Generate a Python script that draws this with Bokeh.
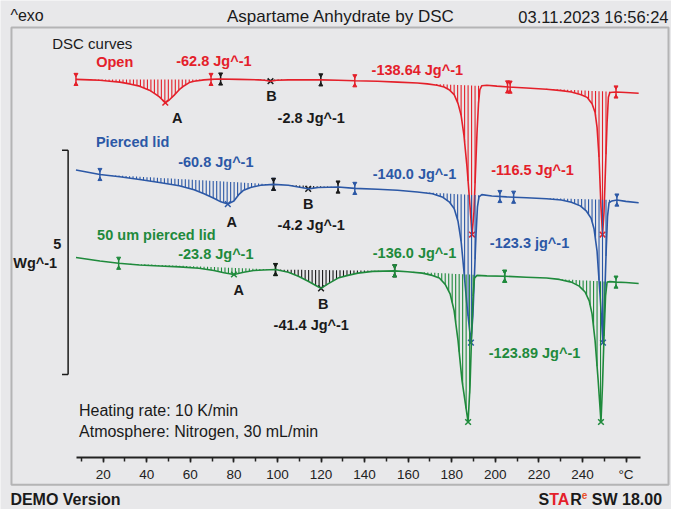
import numpy as np
from bokeh.plotting import figure
from bokeh.models import Range1d, LinearAxis, SingleIntervalTicker, BoxAnnotation, ColumnDataSource
from bokeh.core.properties import value
from bokeh.embed import file_html
from bokeh.resources import INLINE

RED = "#e4202a"
BLUE = "#2c58a6"
GREEN = "#1f8a3c"
BLACK = "#1a1a1a"
BG = "#e8e8ea"
FONT = "Liberation Sans"

# ---------------- data (temperature in degC, heat flow in W/g) ----------------
open_T = [7.5, 13.9, 18.5, 23.0, 27.6, 32.1, 36.7, 41.2, 43.5, 45.8, 48.5, 50.3, 52.6, 54.9, 57.2, 59.5,
          61.7, 66.3, 69.5, 73.1, 82.2, 91.3, 94.1, 96.8, 99.5, 105.0, 114.1, 120.0, 127.8, 135.5, 146.0,
          155.1, 164.2, 168.8, 173.3, 176.5, 178.8, 181.1, 182.9, 184.3, 185.6, 187.0, 188.4, 189.3, 190.2,
          190.9, 191.6, 192.3, 192.9, 193.8, 196.1, 200.7, 206.1, 214.3, 223.5, 230.3, 234.9, 239.4, 242.1,
          244.4, 245.8, 246.7, 247.6, 248.5, 249.2, 249.9, 250.6, 251.3, 251.9, 252.6, 255.4, 259.9, 265.8]
open_hf = [0.00, -0.01, -0.02, -0.04, -0.06, -0.10, -0.15, -0.24, -0.31, -0.39, -0.52, -0.46, -0.35, -0.23,
           -0.14, -0.07, -0.04, -0.01, 0.00, 0.01, 0.00, -0.01, -0.02, -0.04, -0.02, -0.01, -0.01, -0.01,
           -0.02, -0.03, -0.04, -0.06, -0.08, -0.10, -0.13, -0.17, -0.23, -0.34, -0.54, -0.80, -1.25, -1.95,
           -2.84, -3.46, -2.95, -2.06, -1.18, -0.52, -0.23, -0.14, -0.13, -0.15, -0.17, -0.19, -0.22, -0.25,
           -0.28, -0.34, -0.40, -0.54, -0.74, -1.07, -1.73, -2.84, -3.46, -2.95, -1.95, -0.96, -0.40, -0.29,
           -0.28, -0.29, -0.31]

pierced_T = [7.5, 18.5, 27.6, 36.7, 45.8, 54.9, 61.7, 66.3, 70.8, 74.0, 77.2, 80.0, 82.2, 84.5, 87.7, 92.3,
             98.2, 105.0, 109.6, 114.1, 118.7, 127.8, 135.5, 146.0, 155.1, 164.2, 171.1, 175.6, 178.8, 181.1,
             182.9, 184.3, 185.6, 187.0, 188.8, 189.7, 190.4, 191.1, 191.8, 192.5, 193.8, 198.4, 205.2, 214.3,
             223.5, 230.3, 234.9, 239.0, 241.7, 244.0, 245.3, 246.7, 248.1, 249.4, 250.1, 250.8, 251.5, 252.2,
             253.5, 255.8, 259.9, 265.8]
pierced_hf = [0.00, -0.10, -0.15, -0.21, -0.28, -0.35, -0.44, -0.53, -0.63, -0.71, -0.76, -0.69, -0.55, -0.45,
              -0.39, -0.34, -0.32, -0.34, -0.38, -0.42, -0.39, -0.38, -0.41, -0.43, -0.45, -0.49, -0.53, -0.60,
              -0.71, -0.86, -1.15, -1.59, -2.26, -3.03, -3.85, -3.25, -2.37, -1.48, -0.82, -0.60, -0.55, -0.58,
              -0.60, -0.62, -0.64, -0.67, -0.72, -0.80, -0.91, -1.08, -1.31, -1.81, -2.81, -3.85, -3.03, -1.92,
              -1.04, -0.73, -0.69, -0.67, -0.70, -0.73]

um50_T = [7.5, 18.5, 27.1, 36.7, 45.8, 54.9, 64.0, 70.8, 75.4, 80.0, 84.5, 89.1, 93.6, 99.1, 105.0, 109.6,
          114.1, 117.8, 120.0, 123.2, 127.8, 132.3, 136.9, 143.7, 153.8, 159.7, 166.5, 171.1, 174.3, 177.0,
          179.3, 181.1, 182.9, 184.7, 187.5, 188.4, 189.1, 189.8, 190.4, 191.6, 196.1, 204.3, 214.3, 223.5,
          229.4, 234.9, 238.5, 241.2, 243.1, 244.4, 245.8, 247.2, 248.5, 249.2, 249.9, 250.6, 251.3, 252.6,
          255.4, 259.9, 265.8]
um50_hf = [0.00, -0.08, -0.13, -0.17, -0.19, -0.21, -0.24, -0.29, -0.34, -0.38, -0.33, -0.29, -0.28, -0.27,
           -0.33, -0.42, -0.53, -0.63, -0.69, -0.59, -0.46, -0.40, -0.35, -0.31, -0.30, -0.32, -0.35, -0.40,
           -0.46, -0.60, -0.82, -1.19, -1.86, -2.74, -3.67, -2.85, -1.75, -0.86, -0.46, -0.40, -0.41, -0.42,
           -0.44, -0.46, -0.49, -0.55, -0.64, -0.77, -0.97, -1.26, -1.86, -2.74, -3.67, -2.85, -1.75, -0.86,
           -0.55, -0.54, -0.55, -0.56, -0.58]

# display offsets of the curves (W/g)
curve_offsets = [8.44, 6.42, 4.47]

# integration limits (degC)
open_limits = [(7.5, 69.5), (73.9, 119.9), (135.5, 205.6), (206.8, 255.4)]
pierced_limits = [(18.5, 98.2), (98.2, 127.8), (135.5, 202.1), (208.4, 255.8)]
um50_limits = [(27.1, 99.1), (99.1, 153.8), (153.8, 204.3), (204.3, 255.4)]
limit_kinds = ["curve", "black", "curve", "curve"]

scale_bar_wg = 5.0

curves = [
    (open_T, open_hf, RED, open_limits),
    (pierced_T, pierced_hf, BLUE, pierced_limits),
    (um50_T, um50_hf, GREEN, um50_limits),
]

# ---------------- figure ----------------
p = figure(width=671, height=509, output_backend="svg", toolbar_location=None,
           x_range=Range1d(-27.14, 280.87), y_range=Range1d(-1.151, 10.20),
           x_axis_type=None, y_axis_type=None, min_border=0,
           background_fill_color=BG, border_fill_color=BG, outline_line_color=None)
p.grid.visible = False

# frame box
p.add_layout(BoxAnnotation(left=-22.1, right=279.5, bottom=-0.60, top=9.60,
                           fill_alpha=0, line_color="#3a3a3a", line_width=2))

# x axis drawn inside the frame
ax = LinearAxis(fixed_location=0, bounds=(7.8, 266.5),
                ticker=SingleIntervalTicker(interval=20, num_minor_ticks=2))
ax.major_label_overrides = {260: "°C"}
ax.axis_line_width = 2
ax.axis_line_color = "#222222"
ax.major_tick_in = 0
ax.major_tick_out = 5
ax.minor_tick_in = 0
ax.minor_tick_out = 4
ax.major_tick_line_width = 1.5
ax.minor_tick_line_width = 1.5
ax.major_tick_line_color = "#222222"
ax.minor_tick_line_color = "#222222"
ax.major_label_text_font = FONT
ax.major_label_text_font_size = "13.5px"
ax.major_label_text_color = "#222222"
ax.major_label_standoff = 4
p.add_layout(ax, "below")

step = 1.6
for (T, hf, col, limits), off in zip(curves, curve_offsets):
    T = np.asarray(T, float)
    y = np.asarray(hf, float) + off
    for (t1, t2), kind in zip(limits, limit_kinds):
        c = col if kind == "curve" else BLACK
        y1, y2 = np.interp([t1, t2], T, y)
        ts = np.arange(t1 + step / 2, t2, step)
        yc = np.interp(ts, T, y)
        yb = y1 + (y2 - y1) * (ts - t1) / (t2 - t1)
        m = yc < yb - 0.01
        p.segment(ts[m], yb[m], ts[m], yc[m], line_color=c, line_width=1.1)
        # peak marker
        sel = (T >= t1) & (T <= t2)
        rel = y[sel] - (y1 + (y2 - y1) * (T[sel] - t1) / (t2 - t1))
        k = np.argmin(rel)
        p.scatter([T[sel][k]], [y[sel][k]], marker="x", size=8, line_color=c, line_width=1.5)
        # limit markers
        lx = [t1, t2]
        ly = [y1, y2]
        p.segment(lx, [v - 0.13 for v in ly], lx, [v + 0.13 for v in ly], line_color=c, line_width=1.5)
        p.scatter(lx, [v + 0.11 for v in ly], marker="inverted_triangle", size=4, fill_color=c, line_color=c)
        p.scatter(lx, [v - 0.11 for v in ly], marker="triangle", size=4, fill_color=c, line_color=c)
    p.line(T, y, line_color=col, line_width=1.6)

# scale bar (5 W/g)
sb_x, sb_bottom = 3.9, 1.86
p.segment([sb_x], [sb_bottom], [sb_x], [sb_bottom + scale_bar_wg], line_color=BLACK, line_width=1.5)
p.segment([1.1, 1.1], [sb_bottom, sb_bottom + scale_bar_wg], [sb_x, sb_x],
          [sb_bottom, sb_bottom + scale_bar_wg], line_color=BLACK, line_width=1.5)


def texts(items, color, size, style="normal", align="center", baseline="middle"):
    src = ColumnDataSource(dict(x=[i[1] for i in items], y=[i[2] for i in items],
                                t=[i[0] for i in items]))
    p.text(x="x", y="y", text="t", source=src, text_color=color, text_font=value(FONT),
           text_font_size=size, text_font_style=style, text_align=align, text_baseline=baseline)


# curve annotations
texts([("Open", 25.3, 8.83), ("-62.8 Jg^-1", 70.8, 8.85), ("-138.64 Jg^-1", 164.2, 8.65),
       ("-116.5 Jg^-1", 217.1, 6.42)], RED, "14.5px", "bold")
texts([("Pierced lid", 33.5, 7.04), ("-60.8 Jg^-1", 71.7, 6.59), ("-140.0 Jg^-1", 162.9, 6.33),
       ("-123.3 jg^-1", 215.7, 4.80)], BLUE, "14.5px", "bold")
texts([("50 um pierced lid", 44.4, 4.96), ("-23.8 Jg^-1", 71.7, 4.54), ("-136.0 Jg^-1", 162.9, 4.56),
       ("-123.89 Jg^-1", 218.0, 2.35)], GREEN, "14.5px", "bold")
texts([("A", 54.0, 7.57), ("B", 97.3, 8.08), ("-2.8 Jg^-1", 115.5, 7.59),
       ("A", 79.0, 5.27), ("B", 114.1, 5.66), ("-4.2 Jg^-1", 115.5, 5.20),
       ("A", 82.2, 3.74), ("B", 121.0, 3.43), ("-41.4 Jg^-1", 115.5, 2.96)], BLACK, "14.5px", "bold")
texts([("5", -1.1, 4.76), ("Wg^-1", -11.2, 4.34)], BLACK, "14.5px", "bold")
texts([("DSC curves", -3.4, 9.25)], BLACK, "15px", "normal", "left")
texts([("Heating rate: 10 K/min", 8.9, 1.06), ("Atmosphere: Nitrogen, 30 mL/min", 8.9, 0.58)],
      BLACK, "16px", "normal", "left")

# header / footer
texts([("^exo", -22.6, 9.87)], BLACK, "16px", "normal", "left")
texts([("Aspartame Anhydrate by DSC", 129.1, 9.84)], BLACK, "17px", "normal", "center")
texts([("03.11.2023 16:56:24", 279.5, 9.84)], BLACK, "16.5px", "normal", "right")
texts([("DEMO Version", -22.6, -0.93)], BLACK, "16px", "bold", "left")
texts([("S", 219.8, -0.93), ("R", 234.4, -0.93), ("SW 18.00", 244.3, -0.93)], BLACK, "16px", "bold", "left")
texts([("TA", 224.7, -0.93)], RED, "16px", "bold", "left")
texts([("e", 239.7, -0.82)], "#e8502a", "10px", "bold", "left")

open("out.html", "w").write(file_html(p, INLINE))
